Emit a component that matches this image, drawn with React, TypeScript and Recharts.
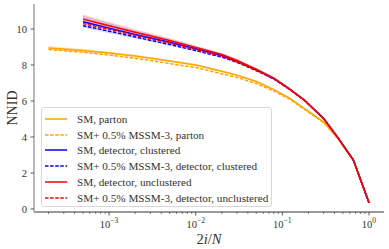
import React from 'react';
import { ComposedChart, Line, Area, XAxis, YAxis, Legend } from 'recharts';

const xValues = [2e-4, 5e-4, 1e-3, 2e-3, 5e-3, 1e-2, 2e-2, 3e-2, 5e-2, 8e-2, 0.12, 0.18, 0.3, 0.44, 0.66, 1.0];
const smParton = [8.94, 8.8, 8.66, 8.5, 8.22, 8.0, 7.65, 7.43, 7.08, 6.63, 6.17, 5.57, 4.83, 3.9, 2.71, 0.35];
const bsmParton = [8.86, 8.71, 8.55, 8.37, 8.08, 7.86, 7.51, 7.31, 6.97, 6.55, 6.11, 5.53, 4.8, 3.89, 2.7, 0.34];
const smClustered = [null, 10.4, 10.05, 9.7, 9.26, 8.9, 8.52, 8.2, 7.73, 7.24, 6.67, 6.04, 5.02, 3.95, 2.72, 0.35];
const bsmClustered = [null, 10.18, 9.88, 9.56, 9.14, 8.8, 8.44, 8.15, 7.69, 7.22, 6.66, 6.03, 5.02, 3.94, 2.71, 0.35];
const smUnclustered = [null, 10.55, 10.18, 9.82, 9.36, 8.98, 8.58, 8.25, 7.77, 7.27, 6.69, 6.05, 5.03, 3.95, 2.72, 0.35];
const bsmUnclustered = [null, 10.3, 9.98, 9.65, 9.22, 8.86, 8.48, 8.17, 7.71, 7.23, 6.66, 6.03, 5.02, 3.95, 2.72, 0.35];
const smPartonErr = [0.1, 0.09, 0.08, 0.07, 0.06, 0.05, 0.05, 0.04, 0.04, 0.04, 0.03, 0.03, 0.03, 0.03, 0.02, 0.02];
const smClusteredErr = [null, 0.33, 0.28, 0.23, 0.18, 0.14, 0.11, 0.1, 0.08, 0.06, 0.05, 0.04, 0.04, 0.03, 0.03, 0.02];
const smUnclusteredErr = [null, 0.25, 0.21, 0.17, 0.14, 0.11, 0.09, 0.08, 0.07, 0.05, 0.04, 0.04, 0.03, 0.03, 0.02, 0.02];

const xMajorTicks = [1e-3, 1e-2, 1e-1, 1];
const xMajorExponents = ['\u22123', '\u22122', '\u22121', '0'];
const xMinorMantissas = [2, 3, 4, 5, 6, 7, 8, 9];
const xMinorDecades = [1e-4, 1e-3, 1e-2, 1e-1];
const yTicks = [0, 2, 4, 6, 8, 10];

const legendLabels = [
  'SM, parton',
  'SM+ 0.5% MSSM-3, parton',
  'SM, detector, clustered',
  'SM+ 0.5% MSSM-3, detector, clustered',
  'SM, detector, unclustered',
  'SM+ 0.5% MSSM-3, detector, unclustered',
];
const legendColors = ['orange', 'orange', 'blue', 'blue', 'red', 'red'];
const legendDashed = [false, true, false, true, false, true];

const band = (v: number | null, e: number | null) => (v == null || e == null ? null : [v - e, v + e]);

const data = xValues.map((x, i) => ({
  x,
  smParton: smParton[i],
  bsmParton: bsmParton[i],
  smClustered: smClustered[i],
  bsmClustered: bsmClustered[i],
  smUnclustered: smUnclustered[i],
  bsmUnclustered: bsmUnclustered[i],
  partonBand: band(smParton[i], smPartonErr[i]),
  clusteredBand: band(smClustered[i], smClusteredErr[i]),
  unclusteredBand: band(smUnclustered[i], smUnclusteredErr[i]),
}));

const xMinorTicks: number[] = [];
xMinorDecades.forEach((d) => xMinorMantissas.forEach((m) => xMinorTicks.push(m * d)));
const allXTicks = [...xMajorTicks, ...xMinorTicks].sort((a, b) => a - b);

const FONT = "'Liberation Serif', Tinos, 'Times New Roman', Times, 'DejaVu Serif', 'Noto Serif', FreeSerif, serif";
const TEXT = '#333';

const XTick = (props: any) => {
  const { x, y, payload } = props;
  const v = payload.value;
  const idx = xMajorTicks.findIndex((t) => Math.abs(Math.log10(t) - Math.log10(v)) < 1e-6);
  const major = idx >= 0;
  return (
    <g>
      <line x1={x} x2={x} y1={y} y2={y + (major ? 3.5 : 2)} stroke="#333" strokeWidth={major ? 0.8 : 0.6} />
      {major && (
        <text x={x} y={y + 15.5} textAnchor="middle" fontFamily={FONT} fontSize={10.5} fill={TEXT}>
          10
          <tspan dy={-5} fontSize={7.5}>{xMajorExponents[idx]}</tspan>
        </text>
      )}
    </g>
  );
};

const YTick = (props: any) => {
  const { x, y, payload } = props;
  return (
    <g>
      <line x1={x - 3.5} x2={x} y1={y} y2={y} stroke="#333" strokeWidth={0.8} />
      <text x={x - 7} y={y + 3.7} textAnchor="end" fontFamily={FONT} fontSize={10.5} fill={TEXT}>
        {payload.value}
      </text>
    </g>
  );
};

const XLabel = (props: any) => {
  const { viewBox } = props;
  const cx = viewBox.x + viewBox.width / 2;
  return (
    <text x={cx} y={viewBox.y + 32} textAnchor="middle" fontFamily={FONT} fontSize={14.5} fill={TEXT}>
      2<tspan fontStyle="italic">i</tspan>/<tspan fontStyle="italic">N</tspan>
    </text>
  );
};

const YLabel = (props: any) => {
  const { viewBox } = props;
  const cy = viewBox.y + viewBox.height / 2;
  return (
    <text x={17} y={cy} transform={`rotate(-90 17 ${cy})`} textAnchor="middle" fontFamily={FONT} fontSize={14} fill={TEXT}>
      NNID
    </text>
  );
};

const LegendContent = () => (
  <div
    style={{
      border: '1px solid #d8d8d8',
      borderRadius: 3,
      background: 'rgba(255,255,255,0.8)',
      padding: '3px 4px 2px 3px',
      boxSizing: 'border-box',
      width: 231,
      height: 100,
    }}
  >
    {legendLabels.map((label, i) => (
      <div key={label} style={{ display: 'flex', alignItems: 'center', height: 15.8 }}>
        <svg width={22} height={6} style={{ marginRight: 10, flex: 'none' }}>
          <line
            x1={0}
            x2={22}
            y1={3}
            y2={3}
            stroke={legendColors[i]}
            strokeWidth={1.5}
            strokeDasharray={legendDashed[i] ? '3.5 1.6' : undefined}
          />
        </svg>
        <span style={{ fontFamily: FONT, fontSize: 11.2, color: TEXT, whiteSpace: 'nowrap', lineHeight: '12px' }}>{label}</span>
      </div>
    ))}
  </div>
);

export default function App() {
  return (
    <div style={{ position: 'absolute', left: 0, top: 0, width: 389, height: 249, background: '#fff' }}>
      <ComposedChart width={389} height={249} data={data} margin={{ top: 4, right: 5, bottom: 0, left: 0 }}>
        <XAxis
          xAxisId="main"
          dataKey="x"
          type="number"
          scale="log"
          domain={[1.36e-4, 1.49]}
          allowDataOverflow
          ticks={allXTicks}
          interval={0}
          tick={<XTick />}
          tickLine={false}
          tickSize={0}
          tickMargin={0}
          height={37}
          axisLine={{ stroke: '#333', strokeWidth: 1 }}
          label={<XLabel />}
        />
        <XAxis xAxisId="top" orientation="top" dataKey="x" type="number" scale="log" domain={[1.36e-4, 1.49]} allowDataOverflow height={0} tick={false} tickLine={false} axisLine={{ stroke: '#444', strokeWidth: 1 }} />
        <YAxis
          yAxisId="main"
          type="number"
          domain={[-0.17, 11.39]}
          allowDataOverflow
          ticks={yTicks}
          interval={0}
          tick={<YTick />}
          tickLine={false}
          tickSize={0}
          tickMargin={0}
          width={34}
          axisLine={{ stroke: '#aaa', strokeWidth: 1.6 }}
          label={<YLabel />}
        />
        <YAxis yAxisId="right" orientation="right" type="number" domain={[-0.17, 11.39]} width={0} tick={false} tickLine={false} axisLine={{ stroke: '#444', strokeWidth: 1 }} />
        <Area xAxisId="main" yAxisId="main" dataKey="partonBand" type="linear" fill="orange" fillOpacity={0.3} stroke="none" isAnimationActive={false} legendType="none" />
        <Area xAxisId="main" yAxisId="main" dataKey="clusteredBand" type="linear" fill="blue" fillOpacity={0.15} stroke="none" isAnimationActive={false} legendType="none" />
        <Area xAxisId="main" yAxisId="main" dataKey="unclusteredBand" type="linear" fill="red" fillOpacity={0.18} stroke="none" isAnimationActive={false} legendType="none" />
        <Line xAxisId="main" yAxisId="main" dataKey="smParton" type="linear" stroke="orange" strokeWidth={1.5} dot={false} isAnimationActive={false} />
        <Line xAxisId="main" yAxisId="main" dataKey="bsmParton" type="linear" stroke="orange" strokeWidth={1.5} strokeDasharray="3.5 1.6" dot={false} isAnimationActive={false} />
        <Line xAxisId="main" yAxisId="main" dataKey="smClustered" type="linear" stroke="blue" strokeWidth={1.5} dot={false} isAnimationActive={false} />
        <Line xAxisId="main" yAxisId="main" dataKey="bsmClustered" type="linear" stroke="blue" strokeWidth={1.5} strokeDasharray="3.5 1.6" dot={false} isAnimationActive={false} />
        <Line xAxisId="main" yAxisId="main" dataKey="smUnclustered" type="linear" stroke="red" strokeWidth={1.5} dot={false} isAnimationActive={false} />
        <Line xAxisId="main" yAxisId="main" dataKey="bsmUnclustered" type="linear" stroke="red" strokeWidth={1.5} strokeDasharray="3.5 1.6" dot={false} isAnimationActive={false} />
        <Legend
          verticalAlign="middle"
          align="center"
          layout="horizontal"
          content={<LegendContent />}
          wrapperStyle={{ position: 'absolute', left: 41, top: 107, width: 231, height: 100, margin: 0 }}
        />
      </ComposedChart>
    </div>
  );
}
